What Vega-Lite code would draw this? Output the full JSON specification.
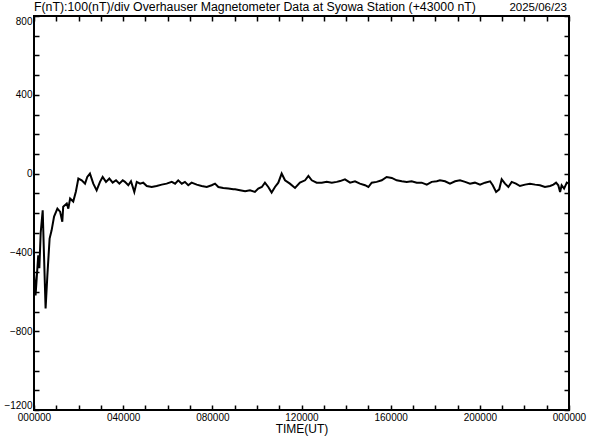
{
  "$schema": "https://vega.github.io/schema/vega-lite/v6.json",
  "width": 535,
  "height": 394,
  "autosize": {"type": "none"},
  "padding": {"left": 34, "top": 16, "right": 23, "bottom": 30},
  "background": "white",
  "config": {
    "view": {"stroke": "black", "strokeWidth": 2},
    "font": "Liberation Sans",
    "axis": {
      "domain": false,
      "ticks": true,
      "tickColor": "black",
      "tickWidth": 1.5,
      "tickOpacity": 1,
      "labelColor": "black",
      "labelFont": "Liberation Sans",
      "labelFontSize": 10,
      "grid": false,
      "titleFont": "Liberation Sans",
      "titleFontWeight": "normal",
      "titleColor": "black",
      "labelOverlap": false,
      "labelFlush": false
    }
  },
  "title": {
    "text": "F(nT):100(nT)/div  Overhauser Magnetometer Data at Syowa Station (+43000 nT)",
    "anchor": "start",
    "frame": "group",
    "fontSize": 12.3,
    "fontWeight": "normal",
    "font": "Liberation Sans",
    "color": "black",
    "offset": -11
  },
  "data": {
    "values": [
      {"h": 0.0, "f": -500}, {"h": 0.07, "f": -618}, {"h": 0.19, "f": -415}, {"h": 0.24, "f": -480},
      {"h": 0.3, "f": -300}, {"h": 0.39, "f": -186}, {"h": 0.44, "f": -380}, {"h": 0.52, "f": -685},
      {"h": 0.6, "f": -516}, {"h": 0.7, "f": -330}, {"h": 0.79, "f": -288}, {"h": 0.9, "f": -218},
      {"h": 1.05, "f": -178}, {"h": 1.17, "f": -193}, {"h": 1.27, "f": -244}, {"h": 1.31, "f": -168},
      {"h": 1.47, "f": -152}, {"h": 1.54, "f": -178}, {"h": 1.62, "f": -127}, {"h": 1.76, "f": -142},
      {"h": 1.88, "f": -91}, {"h": 1.99, "f": -25}, {"h": 2.14, "f": -34}, {"h": 2.29, "f": -51},
      {"h": 2.39, "f": -17}, {"h": 2.51, "f": 0}, {"h": 2.66, "f": -51}, {"h": 2.81, "f": -85},
      {"h": 2.96, "f": -42}, {"h": 3.08, "f": -17}, {"h": 3.23, "f": -42}, {"h": 3.38, "f": -25},
      {"h": 3.53, "f": -46}, {"h": 3.68, "f": -34}, {"h": 3.83, "f": -51}, {"h": 3.98, "f": -34},
      {"h": 4.08, "f": -42}, {"h": 4.23, "f": -59}, {"h": 4.35, "f": -39}, {"h": 4.5, "f": -93},
      {"h": 4.61, "f": -42}, {"h": 4.76, "f": -51}, {"h": 4.9, "f": -46}, {"h": 5.06, "f": -63},
      {"h": 5.28, "f": -68}, {"h": 5.5, "f": -63}, {"h": 5.73, "f": -56}, {"h": 5.95, "f": -51},
      {"h": 6.18, "f": -42}, {"h": 6.33, "f": -51}, {"h": 6.47, "f": -34}, {"h": 6.63, "f": -51},
      {"h": 6.77, "f": -42}, {"h": 6.92, "f": -59}, {"h": 7.07, "f": -46}, {"h": 7.3, "f": -56},
      {"h": 7.52, "f": -63}, {"h": 7.75, "f": -68}, {"h": 7.97, "f": -59}, {"h": 8.12, "f": -51},
      {"h": 8.27, "f": -68}, {"h": 8.49, "f": -73}, {"h": 8.72, "f": -76}, {"h": 8.94, "f": -80},
      {"h": 9.02, "f": -80}, {"h": 9.24, "f": -85}, {"h": 9.47, "f": -90}, {"h": 9.69, "f": -85},
      {"h": 9.91, "f": -93}, {"h": 10.06, "f": -76}, {"h": 10.22, "f": -68}, {"h": 10.36, "f": -46},
      {"h": 10.51, "f": -68}, {"h": 10.66, "f": -96}, {"h": 10.81, "f": -68}, {"h": 10.96, "f": -46},
      {"h": 11.11, "f": 0}, {"h": 11.26, "f": -34}, {"h": 11.48, "f": -51}, {"h": 11.71, "f": -73},
      {"h": 11.93, "f": -46}, {"h": 12.16, "f": -34}, {"h": 12.31, "f": -12}, {"h": 12.46, "f": -34},
      {"h": 12.68, "f": -46}, {"h": 12.91, "f": -46}, {"h": 13.13, "f": -42}, {"h": 13.36, "f": -46},
      {"h": 13.58, "f": -42}, {"h": 13.73, "f": -38}, {"h": 13.95, "f": -29}, {"h": 14.18, "f": -46},
      {"h": 14.4, "f": -39}, {"h": 14.62, "f": -51}, {"h": 14.85, "f": -59}, {"h": 15.0, "f": -68},
      {"h": 15.15, "f": -46}, {"h": 15.37, "f": -42}, {"h": 15.6, "f": -34}, {"h": 15.82, "f": -17},
      {"h": 16.05, "f": -22}, {"h": 16.27, "f": -34}, {"h": 16.5, "f": -39}, {"h": 16.72, "f": -42},
      {"h": 16.94, "f": -39}, {"h": 17.17, "f": -46}, {"h": 17.39, "f": -46}, {"h": 17.62, "f": -56},
      {"h": 17.84, "f": -42}, {"h": 18.07, "f": -39}, {"h": 18.21, "f": -34}, {"h": 18.44, "f": -39},
      {"h": 18.66, "f": -51}, {"h": 18.89, "f": -39}, {"h": 19.11, "f": -34}, {"h": 19.34, "f": -42},
      {"h": 19.56, "f": -51}, {"h": 19.78, "f": -46}, {"h": 20.01, "f": -56}, {"h": 20.23, "f": -46},
      {"h": 20.46, "f": -39}, {"h": 20.58, "f": -59}, {"h": 20.73, "f": -93}, {"h": 20.87, "f": -80},
      {"h": 20.98, "f": -29}, {"h": 21.13, "f": -51}, {"h": 21.28, "f": -68}, {"h": 21.43, "f": -42},
      {"h": 21.62, "f": -51}, {"h": 21.8, "f": -63}, {"h": 22.03, "f": -56}, {"h": 22.25, "f": -51},
      {"h": 22.48, "f": -56}, {"h": 22.7, "f": -59}, {"h": 22.92, "f": -68}, {"h": 23.15, "f": -63},
      {"h": 23.3, "f": -56}, {"h": 23.42, "f": -46}, {"h": 23.52, "f": -59}, {"h": 23.6, "f": -93},
      {"h": 23.67, "f": -59}, {"h": 23.78, "f": -76}, {"h": 23.9, "f": -46}, {"h": 23.96, "f": -50}
    ]
  },
  "layer": [
    {
      "mark": {"type": "line", "color": "black", "strokeWidth": 2, "interpolate": "linear"},
      "encoding": {
        "x": {
          "field": "h",
          "type": "quantitative",
          "scale": {"domain": [0, 24], "nice": false, "zero": false},
          "axis": {
            "orient": "bottom",
            "offset": -5,
            "values": [0,1,2,3,4,5,6,7,8,9,10,11,12,13,14,15,16,17,18,19,20,21,22,23,24],
            "labelExpr": "datum.value % 4 == 0 ? (datum.value == 24 ? '000000' : ((datum.value < 10 ? '0' : '') + datum.value + '0000')) : ''",
            "ticks": true,
            "tickSize": 5,
            "labelPadding": 2,
            "title": "TIME(UT)",
            "titleFontSize": 12,
            "titlePadding": 1
          }
        },
        "y": {
          "field": "f",
          "type": "quantitative",
          "scale": {"domain": [-1200, 800], "nice": false, "zero": false},
          "axis": {
            "orient": "left",
            "offset": -5,
            "values": [-1200,-1100,-1000,-900,-800,-700,-600,-500,-400,-300,-200,-100,0,100,200,300,400,500,600,700,800],
            "format": "d",
            "labelExpr": "datum.value % 400 == 0 ? datum.label : ''",
            "labelFlush": true,
            "ticks": true,
            "tickSize": 5,
            "labelPadding": 2,
            "title": null
          }
        }
      }
    },
    {
      "mark": {"type": "line", "opacity": 0},
      "encoding": {
        "x": {
          "field": "h",
          "type": "quantitative",
          "axis": {
            "orient": "top",
            "offset": -5,
            "values": [0,1,2,3,4,5,6,7,8,9,10,11,12,13,14,15,16,17,18,19,20,21,22,23,24],
            "labels": false,
            "ticks": true,
            "tickSize": 5,
            "title": null
          }
        },
        "y": {
          "field": "f",
          "type": "quantitative",
          "axis": {
            "orient": "right",
            "offset": -5,
            "values": [-1200,-1100,-1000,-900,-800,-700,-600,-500,-400,-300,-200,-100,0,100,200,300,400,500,600,700,800],
            "labels": false,
            "ticks": true,
            "tickSize": 5,
            "title": null
          }
        }
      }
    },
    {
      "data": {"values": [{"date": "2025/06/23", "h": 24, "f": 800}]},
      "mark": {"type": "text", "align": "right", "baseline": "bottom", "dy": -3, "dx": -2, "fontSize": 11.5, "fontWeight": "normal", "font": "Liberation Sans", "color": "black"},
      "encoding": {
        "x": {"field": "h", "type": "quantitative", "axis": null},
        "y": {"field": "f", "type": "quantitative", "axis": null},
        "text": {"field": "date"}
      }
    }
  ],
  "resolve": {"axis": {"x": "independent", "y": "independent"}}
}
